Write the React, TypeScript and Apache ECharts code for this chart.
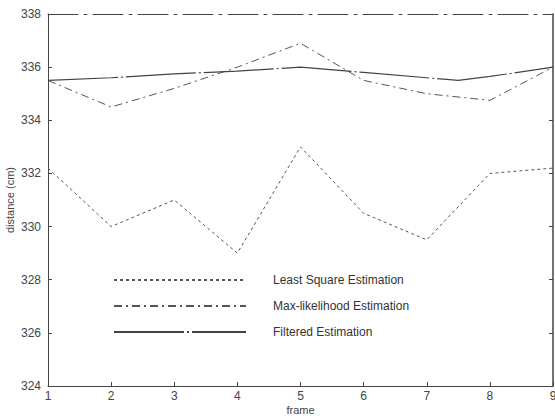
import React, { useEffect, useRef } from "react";
import * as echarts from "echarts";

const frames = [1, 2, 3, 4, 5, 6, 7, 8, 9];
const leastSquare = [332.2, 330.0, 331.0, 329.0, 333.0, 330.5, 329.5, 332.0, 332.2];
const maxLikelihood = [335.5, 334.5, 335.2, 336.0, 336.9, 335.5, 335.0, 334.75, 336.0];
const filteredX = [1, 2, 3, 4, 5, 6, 7, 7.5, 8, 9];
const filteredY = [335.5, 335.6, 335.75, 335.85, 336.0, 335.8, 335.6, 335.5, 335.65, 336.0];
const seriesNames = ["Least Square Estimation", "Max-likelihood Estimation", "Filtered Estimation"];

export default function App() {
  const ref = useRef<HTMLDivElement>(null);
  useEffect(() => {
    const chart = echarts.init(ref.current!, undefined, { renderer: "svg" });
    const axisColor = "#444";
    const font = "Liberation Sans, Arial, sans-serif";
    chart.setOption({
      animation: false,
      backgroundColor: "#fff",
      grid: { left: 48, right: 2, top: 14, bottom: 32, outerBoundsMode: "none", containLabel: false },
      legend: {
        orient: "vertical",
        left: 108,
        top: 269,
        itemWidth: 132,
        itemHeight: 10,
        itemGap: 14,
        itemStyle: { opacity: 0 },
        textStyle: { color: "#333", fontSize: 12, fontFamily: font, padding: [0, 0, 0, 22] },
        data: seriesNames,
      },
      xAxis: [
        {
          type: "value",
          min: 1,
          max: 9,
          interval: 1,
          name: "frame",
          nameLocation: "middle",
          nameGap: 18,
          nameMoveOverlap: false,
          nameTextStyle: { color: "#444", fontSize: 11, fontFamily: font, verticalAlign: "top", lineHeight: 12 },
          axisLine: { lineStyle: { color: axisColor, width: 1 } },
          axisTick: { inside: true, length: 4, lineStyle: { color: axisColor } },
          axisLabel: { color: "#444", fontSize: 12, fontFamily: font, margin: 4, lineHeight: 12 },
          splitLine: { show: false },
        },
        {
          type: "value",
          position: "top",
          min: 1,
          max: 9,
          interval: 1,
          axisLine: { show: true, lineStyle: { color: axisColor, width: 1, type: [30, 6, 3, 6] } },
          axisTick: { show: false },
          axisLabel: { show: false },
          splitLine: { show: false },
        },
      ],
      yAxis: [
        {
          type: "value",
          min: 324,
          max: 338,
          interval: 2,
          name: "distance (cm)",
          nameLocation: "middle",
          nameGap: 33,
          nameMoveOverlap: false,
          nameRotate: 90,
          nameTextStyle: { color: "#444", fontSize: 11, fontFamily: font },
          axisLine: { show: true, lineStyle: { color: axisColor, width: 1 } },
          axisTick: { show: true, inside: true, length: 4, lineStyle: { color: axisColor } },
          axisLabel: { color: "#444", fontSize: 12, fontFamily: font, margin: 7 },
          splitLine: { show: false },
        },
        {
          type: "value",
          position: "right",
          min: 324,
          max: 338,
          interval: 2,
          axisLine: { show: true, lineStyle: { color: axisColor, width: 1.5 } },
          axisTick: { show: true, inside: true, length: 4, lineStyle: { color: axisColor } },
          axisLabel: { show: false },
          splitLine: { show: false },
        },
      ],
      series: [
        {
          name: seriesNames[0],
          type: "line",
          symbol: "none",
          data: frames.map((f, i) => [f, leastSquare[i]]),
          lineStyle: { color: "#555", width: 1, type: [3, 3] },
          itemStyle: { color: "#555" },
        },
        {
          name: seriesNames[1],
          type: "line",
          symbol: "none",
          data: frames.map((f, i) => [f, maxLikelihood[i]]),
          lineStyle: { color: "#555", width: 1, type: [8, 4, 2, 4] },
          itemStyle: { color: "#555" },
        },
        {
          name: seriesNames[2],
          type: "line",
          symbol: "none",
          data: filteredX.map((f, i) => [f, filteredY[i]]),
          lineStyle: { color: "#444", width: 1.2, type: [70, 3, 2, 3] },
          itemStyle: { color: "#444" },
        },
      ],
    });
    return () => chart.dispose();
  }, []);
  return <div ref={ref} style={{ width: 555, height: 418, position: "absolute", left: 0, top: 0 }} />;
}
